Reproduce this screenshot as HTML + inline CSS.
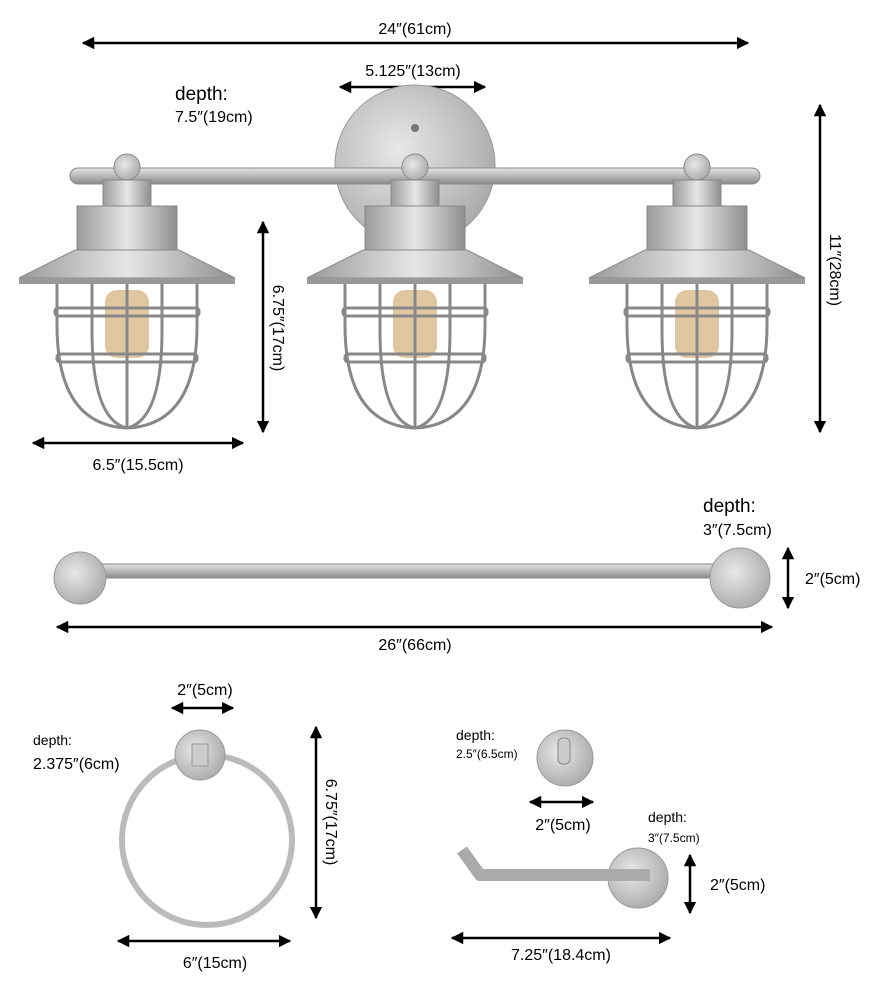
<!DOCTYPE html>
<html><head><meta charset="utf-8"><style>
html,body{margin:0;padding:0;background:#fff;}
svg{display:block;font-family:"Liberation Sans",sans-serif;}
</style></head><body>
<svg width="890" height="990" viewBox="0 0 890 990" xmlns="http://www.w3.org/2000/svg">
<defs>
<marker id="a" viewBox="0 0 10 10" refX="9" refY="5" markerWidth="5" markerHeight="5" orient="auto-start-reverse"><path d="M0,0 L10,5 L0,10 z" fill="#000"/></marker>
<linearGradient id="m" x1="0" y1="0" x2="0" y2="1"><stop offset="0" stop-color="#e4e4e4"/><stop offset=".5" stop-color="#b8b8b8"/><stop offset="1" stop-color="#8a8a8a"/></linearGradient>
<linearGradient id="mh" x1="0" y1="0" x2="1" y2="0"><stop offset="0" stop-color="#9a9a9a"/><stop offset=".5" stop-color="#e6e6e6"/><stop offset="1" stop-color="#8e8e8e"/></linearGradient>
<radialGradient id="pl" cx=".4" cy=".4" r=".7"><stop offset="0" stop-color="#e8e8e8"/><stop offset="1" stop-color="#a5a5a5"/></radialGradient>
<g id="lamp">
<circle cx="0" cy="-3" r="13" fill="url(#pl)" stroke="#888"/>
<rect x="-24" y="10" width="48" height="26" fill="url(#mh)" stroke="#888"/>
<rect x="-50" y="36" width="100" height="44" fill="url(#mh)" stroke="#888"/>
<path d="M-52,80 L52,80 L108,108 L-108,108 Z" fill="url(#mh)" stroke="#888"/>
<rect x="-108" y="108" width="216" height="6" fill="#999"/>
<rect x="-22" y="120" width="44" height="68" rx="12" fill="#d9b98a" opacity=".8"/>
<g fill="none" stroke="#888" stroke-width="3">
<path d="M-70,114 L-70,155 Q-70,255 0,258 Q70,255 70,155 L70,114"/>
<path d="M-35,114 L-35,160 Q-35,250 0,258 Q35,250 35,160 L35,114"/>
<line x1="0" y1="114" x2="0" y2="258"/>
<rect x="-72" y="138" width="144" height="8" rx="3"/>
<rect x="-70" y="184" width="140" height="8" rx="3"/>
</g>
</g>
</defs>
<g stroke="#000" stroke-width="2.5" fill="none" marker-start="url(#a)" marker-end="url(#a)">
<line x1="83" y1="43" x2="748" y2="43"/>
<line x1="340" y1="87" x2="485" y2="87"/>
<line x1="820" y1="105" x2="820" y2="432"/>
<line x1="263" y1="222" x2="263" y2="432"/>
<line x1="33" y1="443" x2="243" y2="443"/>
<line x1="788" y1="548" x2="788" y2="608"/>
<line x1="57" y1="627" x2="772" y2="627"/>
<line x1="172" y1="708" x2="233" y2="708"/>
<line x1="316" y1="727" x2="316" y2="918"/>
<line x1="118" y1="941" x2="290" y2="941"/>
<line x1="530" y1="802" x2="593" y2="802"/>
<line x1="690" y1="855" x2="690" y2="913"/>
<line x1="452" y1="938" x2="670" y2="938"/>
</g>
<circle cx="415" cy="165" r="80" fill="url(#pl)" stroke="#999"/>
<circle cx="415" cy="128" r="4" fill="#777"/>
<rect x="70" y="168" width="690" height="16" rx="8" fill="url(#m)" stroke="#888"/>
<use href="#lamp" x="127" y="170"/>
<use href="#lamp" x="415" y="170"/>
<use href="#lamp" x="697" y="170"/>
<rect x="70" y="564" width="680" height="14" rx="7" fill="url(#m)" stroke="#888"/>
<circle cx="80" cy="578" r="26" fill="url(#pl)" stroke="#999"/>
<circle cx="740" cy="578" r="30" fill="url(#pl)" stroke="#999"/>
<circle cx="207" cy="840" r="85" fill="none" stroke="#bbb" stroke-width="6"/>
<circle cx="200" cy="755" r="25" fill="url(#pl)" stroke="#999"/>
<rect x="192" y="744" width="16" height="22" fill="#ccc" stroke="#999"/>
<circle cx="565" cy="758" r="28" fill="url(#pl)" stroke="#999"/>
<rect x="558" y="738" width="12" height="26" rx="5" fill="#ccc" stroke="#888"/>
<circle cx="638" cy="878" r="30" fill="url(#pl)" stroke="#999"/>
<path d="M462,850 L480,875 L650,875" fill="none" stroke="#aaa" stroke-width="12" stroke-linejoin="round"/>
<g font-size="16" fill="#000">
<text x="415" y="34" text-anchor="middle">24″(61cm)</text>
<text x="413" y="76" text-anchor="middle">5.125″(13cm)</text>
<text x="175" y="100" font-size="19">depth:</text>
<text x="175" y="122">7.5″(19cm)</text>
<text x="138" y="470" text-anchor="middle">6.5″(15.5cm)</text>
<text x="703" y="512" font-size="19">depth:</text>
<text x="703" y="535">3″(7.5cm)</text>
<text x="805" y="584">2″(5cm)</text>
<text x="415" y="650" text-anchor="middle">26″(66cm)</text>
<text x="205" y="695" text-anchor="middle">2″(5cm)</text>
<text x="33" y="745" font-size="14">depth:</text>
<text x="33" y="769">2.375″(6cm)</text>
<text x="215" y="968" text-anchor="middle">6″(15cm)</text>
<text x="456" y="740" font-size="14">depth:</text>
<text x="456" y="758" font-size="12">2.5″(6.5cm)</text>
<text x="563" y="830" text-anchor="middle">2″(5cm)</text>
<text x="648" y="822" font-size="14">depth:</text>
<text x="648" y="842" font-size="12">3″(7.5cm)</text>
<text x="710" y="890">2″(5cm)</text>
<text x="561" y="960" text-anchor="middle">7.25″(18.4cm)</text>
<text transform="translate(830,270) rotate(90)" text-anchor="middle">11″(28cm)</text>
<text transform="translate(273,328) rotate(90)" text-anchor="middle">6.75″(17cm)</text>
<text transform="translate(326,822) rotate(90)" text-anchor="middle">6.75″(17cm)</text>
</g>
</svg>
</body></html>
